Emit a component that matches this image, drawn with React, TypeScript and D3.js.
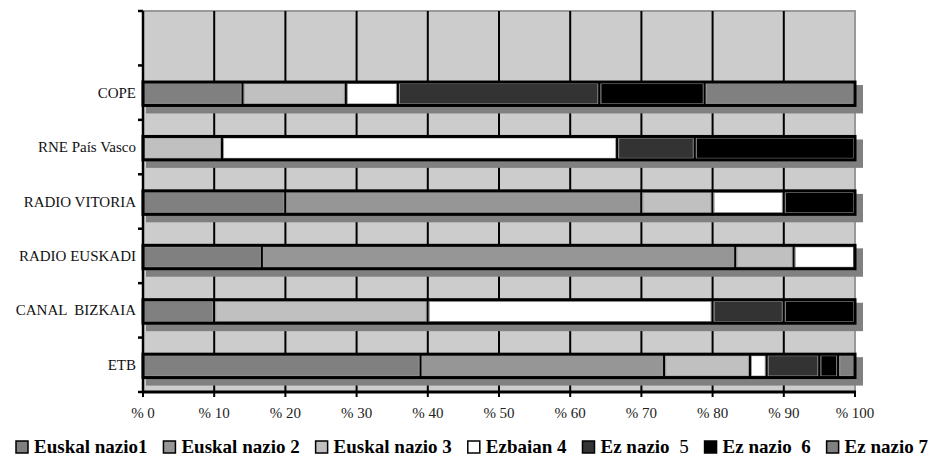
import React from "react";
import * as d3 from "d3";

const categories = ["COPE", "RNE País Vasco", "RADIO VITORIA", "RADIO EUSKADI", "CANAL  BIZKAIA", "ETB"];
const seriesNames = ["Euskal nazio1", "Euskal nazio 2", "Euskal nazio 3", "Ezbaian 4", "Ez nazio  5", "Ez nazio  6", "Ez nazio 7"];
const euskalNazio1 = [14.0, 0, 20, 16.7, 10, 39.0];
const euskalNazio2 = [0, 0, 50, 66.5, 0, 34.2];
const euskalNazio3 = [14.5, 11.1, 10, 8.2, 30, 12.05];
const ezbaian4 = [7.3, 55.5, 10, 8.6, 40, 2.35];
const ezNazio5 = [28.3, 10.9, 0, 0, 10, 7.4];
const ezNazio6 = [14.8, 22.5, 10, 0, 10, 2.65];
const ezNazio7 = [21.1, 0, 0, 0, 0, 2.35];
const xTicks = [0, 10, 20, 30, 40, 50, 60, 70, 80, 90, 100];
const colors = ["#808080", "#969696", "#c0c0c0", "#ffffff", "#333333", "#000000", "#808080"];

const W = 931, H = 469;
const L = 143, R = 855, T = 11, B = 392;
const FONT = "'Liberation Serif', 'Times New Roman', serif";

function measure(text: string, font: string) {
  const c = document.createElement("canvas").getContext("2d")!;
  c.font = font;
  return c.measureText(text).width;
}

export default function App() {
  const allSeries = [euskalNazio1, euskalNazio2, euskalNazio3, ezbaian4, ezNazio5, ezNazio6, ezNazio7];
  const rows = categories.map((c, i) => {
    const o: any = { cat: c };
    seriesNames.forEach((s, j) => (o[s] = allSeries[j][i]));
    return o;
  });
  const stack = d3.stack<any>().keys(seriesNames)(rows);
  const x = d3.scaleLinear().domain([0, 100]).range([L, R]);
  const y = d3.scaleBand<string>().domain(["", ...categories]).range([T, B]).padding(0);
  const bw = y.bandwidth();
  const barY = (c: string) => (y(c) as number) + bw * 0.305;
  const barH = bw * 0.43;

  const fs = 19;
  const legFont = `bold ${fs}px 'Liberation Serif'`;
  const widths = seriesNames.map((s, i) =>
    i === 4 ? measure(s.slice(0, -1), legFont) + measure("5", `${fs}px 'Liberation Serif'`) : measure(s, legFont)
  );
  const sq = 12, sqGap = 6;
  const startX = 16, endX = 928;
  const totalW = widths.reduce((a, b) => a + b, 0) + seriesNames.length * (sq + sqGap);
  const gap = (endX - startX - totalW) / (seriesNames.length - 1);
  let lx = startX;
  const legItems = seriesNames.map((s, i) => {
    const isFive = i === 4;
    const main = isFive ? s.slice(0, -1) : s;
    const item = { i, x: lx, main, isFive };
    lx += sq + sqGap + widths[i] + gap;
    return item;
  });

  return (
    <svg width={W} height={H} style={{ position: "absolute", left: 0, top: 0 }} fontFamily={FONT}>
      <rect x={0} y={0} width={W} height={H} fill="#fff" />
      <rect x={L} y={T} width={R - L} height={B - T} fill="#cccccc" />
      <line x1={L} x2={R + 1} y1={T} y2={T} stroke="#999" strokeWidth={2} />
      <line x1={R} x2={R} y1={T} y2={B} stroke="#999" strokeWidth={2} />
      {xTicks.slice(1, -1).map((t) => (
        <line key={t} x1={x(t)} x2={x(t)} y1={T} y2={B} stroke="#000" strokeWidth={2} />
      ))}
      {categories.map((c) => (
        <rect key={"sh" + c} x={x(0) + 3} y={barY(c) + 3} width={x(100) - x(0) + 5} height={barH + 5} fill="#808080" />
      ))}
      {stack.map((s, j) =>
        s.map((d, i) => {
          const w = x(d[1]) - x(d[0]);
          if (w <= 0.01) return null;
          const c = categories[i];
          return (
            <g key={j + "-" + i}>
              <rect x={x(d[0])} y={barY(c)} width={w} height={barH} fill={colors[j]} stroke="#000" strokeWidth={2} />
              {w > 5 && (
                <rect x={x(d[0]) + 1.5} y={barY(c) + 1.5} width={w - 3} height={barH - 3} fill="none" stroke="#999" strokeWidth={1} />
              )}
            </g>
          );
        })
      )}
      {categories.map((c) => (
        <rect key={"ol" + c} x={x(0)} y={barY(c)} width={x(100) - x(0)} height={barH} fill="none" stroke="#000" strokeWidth={3} />
      ))}
      <line x1={L} x2={L} y1={T} y2={B} stroke="#000" strokeWidth={2.5} />
      {[...y.domain().map((d) => y(d) as number), B].map((v, i) => (
        <line key={"lt" + i} x1={L - 5} x2={L} y1={v} y2={v} stroke="#000" strokeWidth={2.5} />
      ))}
      <line x1={L - 1} x2={R + 1} y1={B} y2={B} stroke="#000" strokeWidth={3} />
      {xTicks.map((t) => (
        <line key={"bt" + t} x1={x(t)} x2={x(t)} y1={B} y2={B + 5} stroke="#000" strokeWidth={2} />
      ))}
      {xTicks.map((t) => (
        <text key={"bl" + t} x={x(t)} y={418} textAnchor="middle" fontSize={15} fill="#222">
          {"% " + t}
        </text>
      ))}
      {categories.map((c) => (
        <text key={"cl" + c} x={136} y={(y(c) as number) + bw / 2 + 5} textAnchor="end" fontSize={15} fill="#111" style={{ whiteSpace: "pre" }}>
          {c}
        </text>
      ))}
      {legItems.map((it) => (
        <g key={"lg" + it.i}>
          <rect x={it.x} y={441} width={sq} height={sq} fill={colors[it.i]} stroke="#000" strokeWidth={1.5} />
          <text x={it.x + sq + sqGap} y={453} fontSize={fs} fontWeight="bold" fill="#000" style={{ whiteSpace: "pre" }}>
            {it.main}
            {it.isFive && <tspan fontWeight="normal">5</tspan>}
          </text>
        </g>
      ))}
    </svg>
  );
}
